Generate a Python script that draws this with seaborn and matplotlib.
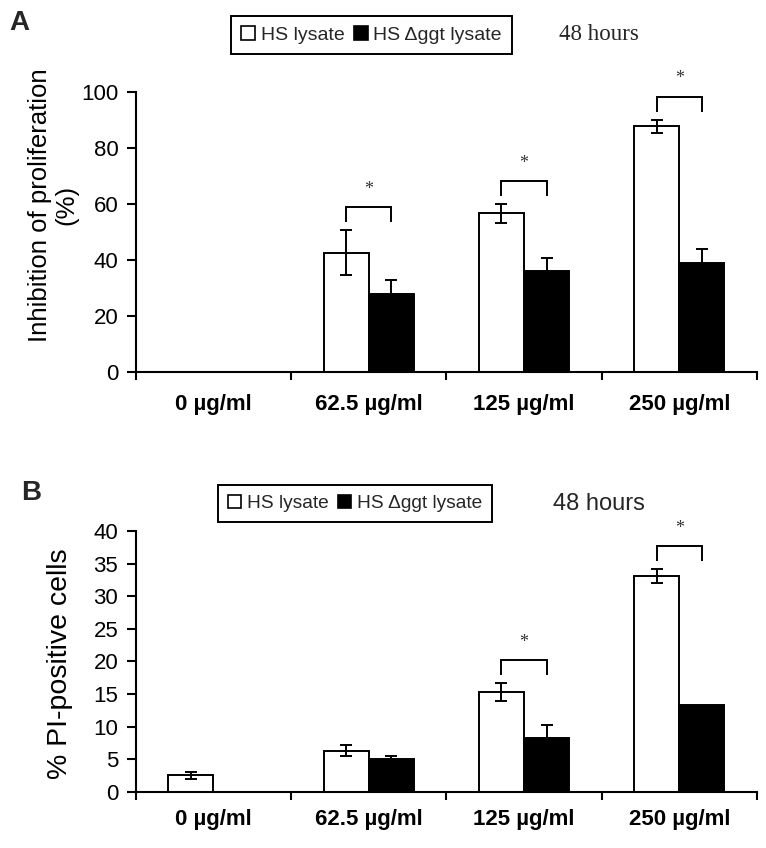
import matplotlib
matplotlib.use("Agg")
import matplotlib.pyplot as plt
from matplotlib.patches import Patch
from matplotlib.ticker import FixedLocator
import seaborn as sns
import pandas as pd
import numpy as np

doses = ["0 µg/ml", "62.5 µg/ml", "125 µg/ml", "250 µg/ml"]
strains = ["HS lysate", "HS Δggt lysate"]

# Panel A: inhibition of proliferation (%)
a_hs = [0, 42.6, 56.7, 87.9]
a_hs_err = [0, 8.0, 3.3, 2.3]
a_dg = [0, 27.7, 36.1, 39.0]
a_dg_err = [0, 5.1, 4.7, 4.9]
a_sig = [False, True, True, True]

# Panel B: % PI-positive cells
b_hs = [2.5, 6.3, 15.3, 33.1]
b_hs_err = [0.55, 0.85, 1.35, 1.05]
b_dg = [0, 5.0, 8.3, 13.3]
b_dg_err = [0, 0.5, 1.9, 0]
b_sig = [False, False, True, True]

sns.set_theme(style="white")
plt.rcParams['font.family'] = ['Liberation Sans', 'DejaVu Sans']

W, H = 766, 848
fig = plt.figure(figsize=(W/100, H/100), dpi=100)
axA = fig.add_axes([135.7/W, 1-371.7/H, 621.3/W, 279.4/H])
axB = fig.add_axes([135.7/W, 1-791.7/H, 621.3/W, 260.7/H])


def panel(ax, hs, hs_err, dg, dg_err, sig, ymax, ystep, ylabel, ylfs,
          ylx, yly, xpad, hpx):
    df = pd.DataFrame({
        "dose": doses * 2,
        "strain": [strains[0]] * 4 + [strains[1]] * 4,
        "value": hs + dg,
    })
    sns.barplot(data=df, x="dose", y="value", hue="strain", order=doses,
                hue_order=strains, palette=["white", "black"], width=0.58,
                edgecolor="black", linewidth=1.4, errorbar=None, ax=ax,
                legend=False)
    cont_hs, cont_dg = ax.containers[0], ax.containers[1]
    xh = [p.get_x() + p.get_width()/2 for p in cont_hs]
    xd = [p.get_x() + p.get_width()/2 for p in cont_dg]
    for xs, vals, errs in ((xh, hs, hs_err), (xd, dg, dg_err)):
        for x, v, e in zip(xs, vals, errs):
            if e > 0:
                ax.errorbar(x, v, yerr=e, fmt="none", ecolor="black",
                            elinewidth=1.4, capsize=4.6, capthick=1.4,
                            zorder=5)
    upp = ymax / hpx  # data units per pixel
    for i, s in enumerate(sig):
        if not s:
            continue
        top = max(hs[i] + hs_err[i], dg[i] + dg_err[i])
        y0 = top + 8 * upp
        y1 = y0 + 15 * upp
        ax.plot([xh[i], xh[i], xd[i], xd[i]], [y0, y1, y1, y0], color="black",
                lw=1.4, clip_on=False, solid_joinstyle="miter",
                solid_capstyle="butt")
        ax.text((xh[i] + xd[i]) / 2, y1 + 18 * upp, "*", ha="center",
                va="center", fontsize=13, family="Liberation Serif",
                color="#333333")
    ax.set_xlim(-0.5, 3.5)
    ax.set_ylim(0, ymax)
    ax.set_yticks(np.arange(0, ymax + 0.1, ystep))
    ax.set_xlabel("")
    ax.set_ylabel(ylabel, fontsize=ylfs, color="black")
    ax.yaxis.set_label_coords(ylx, yly)
    for sp in ("top", "right"):
        ax.spines[sp].set_visible(False)
    for sp in ("left", "bottom"):
        ax.spines[sp].set_color("black")
        ax.spines[sp].set_linewidth(1.5)
    ax.tick_params(axis="y", direction="out", length=6.5, width=1.5,
                   colors="black", labelsize=16, left=True, pad=6)
    ax.tick_params(axis="x", which="major", length=0, labelsize=16,
                   pad=xpad, labelcolor="black")
    ax.xaxis.set_minor_locator(FixedLocator([-0.5, 0.5, 1.5, 2.5, 3.5]))
    ax.tick_params(axis="x", which="minor", direction="out", length=5.5,
                   width=1.5, color="black", bottom=True)
    for lab in ax.get_xticklabels():
        lab.set_fontweight("bold")


panel(axA, a_hs, a_hs_err, a_dg, a_dg_err, a_sig, 100, 20,
      "Inhibition of proliferation\n(%)", 18.5, (78-135.7)/621.3,
      (371.7-205)/279.4, 16, 279.4)
panel(axB, b_hs, b_hs_err, b_dg, b_dg_err, b_sig, 40, 5,
      "% PI-positive cells", 20.5, (73-135.7)/621.3, 0.49, 12.5, 260.7)
axA.yaxis.label.set_linespacing(1.1)

handles = [Patch(facecolor="white", edgecolor="black", linewidth=1.2),
           Patch(facecolor="black", edgecolor="black", linewidth=1.2)]
for cx, cy, fs in ((371.5, 35, 14), (355, 503.5, 13.8)):
    leg = fig.legend(handles, strains, loc="center",
                     bbox_to_anchor=(cx/W, 1-cy/H), ncol=2,
                     frameon=True, fancybox=False, edgecolor="black",
                     framealpha=1, handlelength=0.7, handleheight=0.7,
                     handletextpad=0.3, columnspacing=0.5, borderpad=0.5,
                     borderaxespad=0,
                     prop={"family": ['Liberation Sans', 'DejaVu Sans'],
                           "size": fs})
    leg.get_frame().set_linewidth(1.4)

fig.text(599/W, 1-34/H, "48 hours", ha="center", va="center",
         fontsize=16.5, family="Liberation Serif")
fig.text(599/W, 1-503.5/H, "48 hours", ha="center", va="center",
         fontsize=17)
fig.text(19.5/W, 1-23/H, "A", ha="center", va="center", fontsize=20,
         fontweight="bold")
fig.text(31/W, 1-493/H, "B", ha="center", va="center", fontsize=20,
         fontweight="bold")

fig.savefig("out.png", dpi=100)
